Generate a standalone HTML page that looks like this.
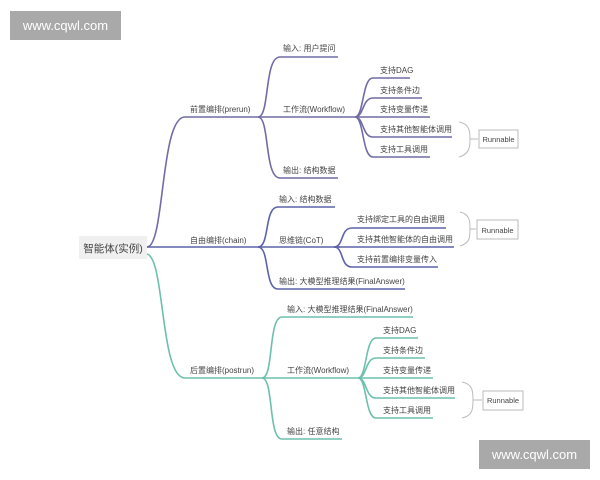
<!DOCTYPE html>
<html><head><meta charset="utf-8"><style>
html,body{margin:0;padding:0;background:#fff;width:600px;height:480px;overflow:hidden}
svg{display:block}
text{font-family:"Liberation Sans","Noto Sans CJK SC",sans-serif;font-size:8px;fill:#444}
.p{stroke:#716ca6;stroke-width:1.6;fill:none}
.c{stroke:#5d63a8;stroke-width:1.6;fill:none}
.t{stroke:#6dbfae;stroke-width:1.6;fill:none}
.b{stroke:#bbb;stroke-width:1;fill:none}
</style></head><body>
<svg width="600" height="480" viewBox="0 0 600 480">
<rect x="10" y="11" width="111" height="29" fill="#a9a9a9"/>
<text x="65.5" y="30" text-anchor="middle" style="font-size:13px;fill:#fff">www.cqwl.com</text>
<rect x="479" y="440" width="111" height="29" fill="#a9a9a9"/>
<text x="534.5" y="459" text-anchor="middle" style="font-size:13px;fill:#fff">www.cqwl.com</text>

<rect x="79" y="236" width="68" height="23" fill="#f0f0f0"/>
<text x="113" y="252" text-anchor="middle" style="font-size:10.5px">智能体(实例)</text>

<!-- prerun -->
<path class="p" d="M147,247 C165,247 160,117 185,117 L258,117"/>
<text x="190" y="112">前置编排(prerun)</text>
<path class="p" d="M258,117 C270,117 264,57 280,57 L338,57"/>
<text x="283" y="51">输入: 用户提问</text>
<path class="p" d="M258,117 L355,117"/>
<text x="283" y="112">工作流(Workflow)</text>
<path class="p" d="M258,117 C270,117 264,178 280,178 L338,178"/>
<text x="283" y="173">输出: 结构数据</text>
<path class="p" d="M355,117 C364,117 362,78 373,78 L410,78"/>
<path class="p" d="M355,117 C364,117 362,98 373,98 L422,98"/>
<path class="p" d="M355,117 L430,117"/>
<path class="p" d="M355,117 C364,117 362,137 373,137 L452,137"/>
<path class="p" d="M355,117 C364,117 362,157 373,157 L430,157"/>
<text x="380" y="73">支持DAG</text>
<text x="380" y="93">支持条件边</text>
<text x="380" y="112">支持变量传递</text>
<text x="380" y="132">支持其他智能体调用</text>
<text x="380" y="152">支持工具调用</text>
<path class="b" d="M459,122 C470,124 470,132 470,139 L478,139 M470,139 C470,146 470,154 459,157"/>
<rect x="479" y="130" width="39" height="18" fill="#fff" stroke="#bbb"/>
<text x="498.5" y="142" text-anchor="middle" style="font-size:7.5px">Runnable</text>

<!-- chain -->
<path class="c" d="M147,247 L258,247"/>
<text x="190" y="243">自由编排(chain)</text>
<path class="c" d="M258,247 C270,247 264,207 278,207 L335,207"/>
<text x="279" y="202">输入: 结构数据</text>
<path class="c" d="M258,247 L340,247"/>
<text x="279" y="243">思维链(CoT)</text>
<path class="c" d="M258,247 C270,247 264,289 278,289 L405,289"/>
<text x="279" y="284">输出: 大模型推理结果(FinalAnswer)</text>
<path class="c" d="M334,247 C344,247 340,228 352,228 L446,228"/>
<path class="c" d="M334,247 L454,247"/>
<path class="c" d="M334,247 C344,247 340,267 352,267 L438,267"/>
<text x="357" y="222">支持绑定工具的自由调用</text>
<text x="357" y="242">支持其他智能体的自由调用</text>
<text x="357" y="262">支持前置编排变量传入</text>
<path class="b" d="M460,212 C470,214 470,222 470,229 L476,229 M470,229 C470,237 470,243 460,246"/>
<rect x="477" y="220" width="41" height="19" fill="#fff" stroke="#bbb"/>
<text x="497.5" y="233" text-anchor="middle" style="font-size:7.5px">Runnable</text>

<!-- postrun -->
<path class="t" d="M147,254 C165,258 160,378 185,378 L262,378"/>
<text x="190" y="373">后置编排(postrun)</text>
<path class="t" d="M262,378 C274,378 268,317 282,317 L413,317"/>
<text x="287" y="312">输入: 大模型推理结果(FinalAnswer)</text>
<path class="t" d="M262,378 L358,378"/>
<text x="287" y="373">工作流(Workflow)</text>
<path class="t" d="M262,378 C274,378 268,439 282,439 L342,439"/>
<text x="287" y="434">输出: 任意结构</text>
<path class="t" d="M358,378 C367,378 365,338 376,338 L418,338"/>
<path class="t" d="M358,378 C367,378 365,358 376,358 L425,358"/>
<path class="t" d="M358,378 L433,378"/>
<path class="t" d="M358,378 C367,378 365,398 376,398 L455,398"/>
<path class="t" d="M358,378 C367,378 365,418 376,418 L433,418"/>
<text x="383" y="333">支持DAG</text>
<text x="383" y="353">支持条件边</text>
<text x="383" y="373">支持变量传递</text>
<text x="383" y="393">支持其他智能体调用</text>
<text x="383" y="413">支持工具调用</text>
<path class="b" d="M462,382 C473,384 473,392 473,400 L482,400 M473,400 C473,408 473,416 462,418"/>
<rect x="483" y="391" width="40" height="19" fill="#fff" stroke="#bbb"/>
<text x="503" y="403" text-anchor="middle" style="font-size:7.5px">Runnable</text>
</svg>
</body></html>
